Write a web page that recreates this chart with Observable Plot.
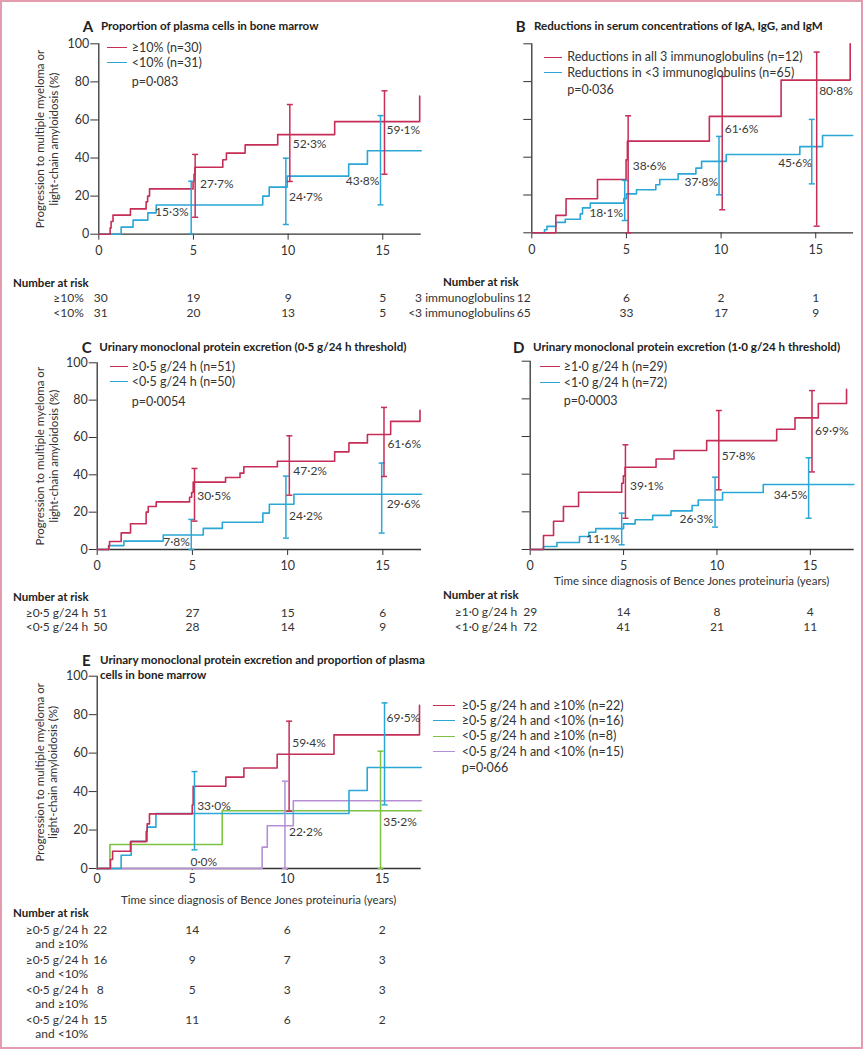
<!DOCTYPE html>
<html><head><meta charset="utf-8">
<script src="https://cdn.jsdelivr.net/npm/d3@7"></script>
<script src="https://cdn.jsdelivr.net/npm/@observablehq/plot@0.6"></script>
<style>
body{margin:0;background:#fff;font-family:Lato,sans-serif;color:#333}
#page{position:relative;width:866px;height:1050px;overflow:hidden;background:#fff}
#page svg{position:absolute;left:0;top:0;background:transparent}
.frame{position:absolute;left:0;top:0;width:863px;height:1049px;box-sizing:border-box;border:2px solid #e29cae}
.t{position:absolute;white-space:nowrap;line-height:1}
.key{position:absolute;height:0}
</style></head>
<body><div id="page"><div class="frame"></div></div>
<script>
// ---------------- DATA ----------------
const riskTimes = [0, 5, 10, 15];
const yAxisLabel = "Progression to multiple myeloma or\nlight-chain amyloidosis (%)";
const xAxisLabel = "Time since diagnosis of Bence Jones proteinuria (years)";

// Panel A
const A_title = "Proportion of plasma cells in bone marrow";
const A_legend = ["≥10% (n=30)", "<10% (n=31)"];
const A_p = "p=0·083";
const A_hi = [[0,0],[0.6,3.3],[0.65,6.7],[0.75,10],[1.67,13.3],[2.5,17],[2.58,20],[2.68,23.8],[4.98,27.7],[5.03,31.5],[5.08,35.2],[6.55,39.1],[6.74,42.6],[7.73,46.9],[9.45,52.3],[12.46,59.1],[16.95,72.5]];
const A_lo = [[0,0],[1.18,3.7],[1.81,7.4],[2.59,11.2],[3.03,15.3],[8.66,20.0],[9.0,24.7],[9.95,30.5],[13.2,36.8],[14.19,43.8],[17.03,43.8]];
const A_ciHi = [[5.09,8.9,41.9],[10.09,27.7,68.1],[15.09,31.5,75.3]];
const A_ciLo = [[4.88,0.2,27.8],[9.88,5.1,39.9],[14.88,15.4,62.3]];
const A_labels = [[5.35,26.1,"27·7%","r"],[10.25,47.1,"52·3%","r"],[15.2,54.8,"59·1%","r"],[4.75,11.4,"15·3%","l"],[10.05,19.3,"24·7%","r"],[14.82,27.7,"43·8%","l"]];
const A_riskRows = ["≥10%", "<10%"];
const A_risk = [[30,19,9,5],[31,20,13,5]];

// Panel B
const B_title = "Reductions in serum concentrations of IgA, IgG, and IgM";
const B_legend = ["Reductions in all 3 immunoglobulins (n=12)", "Reductions in <3 immunoglobulins (n=65)"];
const B_p = "p=0·036";
const B_hi = [[0,0],[1.27,9.2],[1.81,18.0],[3.47,28.2],[4.98,38.6],[5.05,48.5],[9.38,61.6],[13.17,80.8],[16.82,100]];
const B_lo = [[0,0],[0.67,1.6],[0.8,3.4],[1.27,5.5],[1.77,7.2],[2.56,10.0],[2.68,13.2],[3.09,15.7],[4.86,18.1],[5.0,20.6],[5.53,22.8],[6.55,25.4],[6.76,28.2],[7.73,31.2],[8.67,34.2],[8.97,37.8],[10.27,41.4],[14.16,45.6],[15.36,51.5],[16.95,51.5]];
const B_ciHi = [[5.09,0,61.9],[10.06,12.2,82.7],[15.05,3.5,95.6]];
const B_ciLo = [[4.91,6.5,27.7],[9.89,20.1,51.0],[14.79,25.9,60.0]];
const B_labels = [[5.33,35.3,"38·6%","r"],[10.19,54.7,"61·6%","r"],[15.18,75,"80·8%","r"],[4.82,10.6,"18·1%","l"],[9.84,26.8,"37·8%","l"],[14.79,36.9,"45·6%","l"]];
const B_riskRows = ["3 immunoglobulins", "<3 immunoglobulins"];
const B_risk = [[12,6,2,1],[65,33,17,9]];

// Panel C
const C_title = "Urinary monoclonal protein excretion (0·5 g/24 h threshold)";
const C_legend = ["≥0·5 g/24 h (n=51)", "<0·5 g/24 h (n=50)"];
const C_p = "p=0·0054";
const C_hi = [[0,0],[0.6,2.1],[0.65,4.3],[1.26,8.9],[1.75,13.8],[2.57,20],[2.68,23.0],[3.1,25.5],[4.85,28.0],[4.96,30.5],[5.04,36.1],[6.74,38.6],[7.5,40.9],[7.7,44.3],[9.46,47.3],[12.47,52.3],[13.22,57.1],[14.19,61.6],[15.41,68.6],[16.95,74.6]];
const C_lo = [[0,0],[0.63,2.1],[1.4,4.5],[3.47,7.8],[5.57,11.3],[6.57,14.6],[8.7,19.5],[9.04,24.2],[10.33,29.6],[17.03,29.6]];
const C_ciHi = [[5.11,15.2,43.4],[10.09,29.1,60.9],[15.06,39.1,76.1]];
const C_ciLo = [[4.94,0,16.1],[9.91,6.1,39.3],[14.94,8.8,46.3]];
const C_labels = [[5.25,28.6,"30·5%","r"],[10.3,42,"47·2%","r"],[15.24,56.3,"61·6%","r"],[4.87,4,"7·8%","l"],[10.07,18,"24·2%","r"],[15.2,24.1,"29·6%","r"]];
const C_riskRows = ["≥0·5 g/24 h", "<0·5 g/24 h"];
const C_risk = [[51,27,15,6],[50,28,14,9]];

// Panel D
const D_title = "Urinary monoclonal protein excretion (1·0 g/24 h threshold)";
const D_legend = ["≥1·0 g/24 h (n=29)", "<1·0 g/24 h (n=72)"];
const D_p = "p=0·0003";
const D_hi = [[0,0],[0.71,7.4],[1.25,15.0],[1.78,22.8],[2.59,30.4],[4.9,35.2],[4.99,39.1],[5.08,43.7],[6.74,48.1],[7.7,52.6],[9.45,57.8],[13.2,63.9],[14.18,69.9],[15.43,77.5],[16.94,85.1]];
const D_lo = [[0,0],[0.71,1.6],[1.43,3.7],[2.64,6.9],[3.14,9.2],[3.51,11.1],[5.0,13.6],[5.62,15.8],[6.56,18.1],[7.54,20.5],[8.67,23.4],[9.0,26.3],[10.3,30.3],[12.48,34.5],[17.33,34.5]];
const D_ciHi = [[5.1,16.6,55.6],[10.1,31.7,73.8],[15.09,41.2,84.4]];
const D_ciLo = [[4.9,2.5,19.3],[9.9,11.9,38.4],[14.91,16.6,48.7]];
const D_labels = [[5.35,33.6,"39·1%","r"],[10.26,49.4,"57·8%","r"],[15.25,62.8,"69·9%","r"],[4.8,5.7,"11·1%","l"],[9.8,16.3,"26·3%","l"],[14.84,29,"34·5%","l"]];
const D_riskRows = ["≥1·0 g/24 h", "<1·0 g/24 h"];
const D_risk = [[29,14,8,4],[72,41,21,11]];

// Panel E
const E_title = ["Urinary monoclonal protein excretion and proportion of plasma", "cells in bone marrow"];
const E_legend = ["≥0·5 g/24 h and ≥10% (n=22)", "≥0·5 g/24 h and <10% (n=16)", "<0·5 g/24 h and ≥10% (n=8)", "<0·5 g/24 h and <10% (n=15)"];
const E_p = "p=0·066";
const E_hh = [[0,0],[0.7,4.7],[0.81,9.0],[1.75,14.0],[2.58,19.2],[2.63,23.2],[2.75,28.4],[5.0,33.0],[5.05,42.8],[6.77,47.5],[7.72,52.3],[9.47,59.4],[12.46,69.5],[16.96,84.9]];
const E_hl = [[0,0],[1.26,6.9],[1.79,14.2],[2.63,21.5],[3.09,28.6],[13.25,40.6],[14.21,52.5],[17.05,52.5]];
const E_lh = [[0,0],[0.67,12.5],[6.58,30.0],[17.05,30.0]];
const E_ll = [[0,0],[8.68,11.1],[8.95,22.2],[10.32,35.2],[17.05,35.2]];
const E_ciHh = [[10.1,29.8,76.6]];
const E_ciHl = [[5.12,9.7,50.4],[15.12,33.1,86.1]];
const E_ciLh = [[14.91,0,61.0]];
const E_ciLl = [[9.88,0,45.4]];
const E_labels = [[5.26,32.4,"33·0%","r"],[4.91,3.1,"0·0%","r"],[10.26,65.2,"59·4%","r"],[10.09,18.7,"22·2%","r"],[15.23,78.3,"69·5%","r"],[15.05,24.3,"35·2%","r"]];
const E_riskRows = ["≥0·5 g/24 h", "≥0·5 g/24 h", "<0·5 g/24 h", "<0·5 g/24 h"];
const E_riskRows2 = ["and ≥10%", "and <10%", "and ≥10%", "and <10%"];
const E_risk = [[22,14,6,2],[16,9,7,3],[8,5,3,3],[15,11,6,2]];

// ---------------- STYLE ----------------
const RED = "#c62d57", BLUE = "#2aa7d6", GREEN = "#7cc243", PURPLE = "#b58fd6";
const INK = "#333";
const FONT = "Lato, sans-serif";
const page = document.getElementById("page");

function txt(s, x, y, {size = 11, weight = 400, anchor = "start", color = INK} = {}) {
  const d = document.createElement("div");
  d.className = "t";
  d.textContent = s;
  d.style.left = x + "px";
  d.style.top = y + "px";
  d.style.fontSize = size + "px";
  d.style.fontWeight = weight;
  d.style.color = color;
  const tx = anchor === "end" ? "-100%" : anchor === "middle" ? "-50%" : "0";
  d.style.transform = `translate(${tx},-50%)`;
  page.appendChild(d);
}
function key(x1, x2, y, color) {
  const d = document.createElement("div");
  d.className = "key";
  d.style.left = x1 + "px";
  d.style.top = (y - 0.75) + "px";
  d.style.width = (x2 - x1) + "px";
  d.style.borderTop = `1.5px solid ${color}`;
  page.appendChild(d);
}

const capSym = {draw(ctx, size) { const w = Math.sqrt(size / Math.PI); ctx.moveTo(-w, 0); ctx.lineTo(w, 0); }};

function panel(L, series, cis, labels, opts) {
  const marks = [
    Plot.ruleY([0], {x1: 0, x2: L.xmax, stroke: INK, strokeWidth: 1.3}),
    Plot.ruleX([0], {y1: 0, y2: 100, stroke: INK, strokeWidth: 1.3})
  ];
  for (const s of series) marks.push(Plot.line(s.data, {x: d => d[0], y: d => d[1], curve: "step-after", stroke: s.color, strokeWidth: 1.6}));
  for (const c of cis) {
    marks.push(Plot.ruleX(c.data, {x: d => d[0], y1: d => d[1], y2: d => d[2], stroke: c.color, strokeWidth: 1.5}));
    marks.push(Plot.dot(c.data, {x: d => d[0], y: d => d[1], symbol: capSym, r: 3, stroke: c.color, fill: "none", strokeWidth: 1.5}));
    marks.push(Plot.dot(c.data, {x: d => d[0], y: d => d[2], symbol: capSym, r: 3, stroke: c.color, fill: "none", strokeWidth: 1.5}));
  }
  marks.push(Plot.text(labels.filter(d => d[3] === "r"), {x: d => d[0], y: d => d[1], text: d => d[2], textAnchor: "start", fontSize: 12, fill: "#3a3a3a"}));
  marks.push(Plot.text(labels.filter(d => d[3] === "l"), {x: d => d[0], y: d => d[1], text: d => d[2], textAnchor: "end", fontSize: 12, fill: "#3a3a3a"}));
  if (opts.yLabelDx) marks.push(Plot.text([yAxisLabel], {frameAnchor: "left", textAnchor: "middle", lineAnchor: "middle", dx: opts.yLabelDx, rotate: -90, text: d => d, fontSize: 11.5, lineHeight: 1.17, fill: INK}));
  const svg = Plot.plot({
    width: 866, height: 1050,
    marginLeft: L.left, marginRight: 866 - L.right, marginTop: L.top, marginBottom: 1050 - L.bottom,
    x: {domain: [0, L.xmax], ticks: riskTimes, tickSize: opts.xTickSize, tickPadding: opts.xTickPad, tickFormat: d => String(d), label: null},
    y: {domain: [0, 100], ticks: [0, 20, 40, 60, 80, 100], tickSize: 8, tickPadding: 1.5, tickFormat: opts.yTicks ? (d => String(d)) : (() => ""), label: null},
    style: {fontFamily: FONT, fontSize: "12.5px", color: INK, background: "transparent", overflow: "visible"},
    marks
  });
  page.appendChild(svg);
}

function riskTable(L, rows, risk, rowY, labelDx, firstDx, rows2) {
  const cells = [];
  risk.forEach((r, i) => r.forEach((n, j) => cells.push({row: i, t: riskTimes[j], n})));
  const FS = 12;
  const marks = [
    Plot.text(cells.filter(d => d.t === 0), {x: "t", y: "row", text: d => String(d.n), dx: firstDx, fontSize: FS, fill: INK}),
    Plot.text(cells.filter(d => d.t !== 0), {x: "t", y: "row", text: d => String(d.n), fontSize: FS, fill: INK}),
    Plot.text(rows.map((s, i) => ({row: i, s})), {y: "row", text: "s", frameAnchor: "left", textAnchor: "end", dx: labelDx, fontSize: FS, fill: INK})
  ];
  if (rows2) marks.push(Plot.text(rows2.map((s, i) => ({row: i, s})), {y: "row", text: "s", frameAnchor: "left", textAnchor: "end", dx: labelDx, dy: 14, fontSize: FS, fill: INK}));
  const svg = Plot.plot({
    width: 866, height: 1050,
    marginLeft: L.left, marginRight: 866 - L.right, marginTop: rowY[0], marginBottom: 1050 - rowY[1],
    x: {domain: [0, L.xmax], axis: null},
    y: {type: "point", domain: d3.range(rows.length), padding: 0, axis: null},
    style: {fontFamily: FONT, fontSize: "12px", color: INK, background: "transparent", overflow: "visible"},
    marks
  });
  page.appendChild(svg);
}

// ---------------- LAYOUT ----------------
const LA = {left: 98.3, right: 420.7, top: 43.3, bottom: 233.7, xmax: 17.03};
const LB = {left: 531.3, right: 853.1, top: 43.3, bottom: 232.3, xmax: 17};
const LC = {left: 96.7, right: 421, top: 362.3, bottom: 549, xmax: 17.03};
const LD = {left: 529.7, right: 853.7, top: 360.7, bottom: 549, xmax: 17.35};
const LE = {left: 96.7, right: 420.7, top: 675.7, bottom: 868, xmax: 17.05};

panel(LA, [{data: A_lo, color: BLUE}, {data: A_hi, color: RED}], [{data: A_ciLo, color: BLUE}, {data: A_ciHi, color: RED}], A_labels, {yTicks: true, yLabelDx: -52, xTickSize: 6, xTickPad: 6});
panel(LB, [{data: B_lo, color: BLUE}, {data: B_hi, color: RED}], [{data: B_ciLo, color: BLUE}, {data: B_ciHi, color: RED}], B_labels, {yTicks: false, xTickSize: 6, xTickPad: 6});
panel(LC, [{data: C_lo, color: BLUE}, {data: C_hi, color: RED}], [{data: C_ciLo, color: BLUE}, {data: C_ciHi, color: RED}], C_labels, {yTicks: true, yLabelDx: -50.7, xTickSize: 6, xTickPad: 6});
panel(LD, [{data: D_lo, color: BLUE}, {data: D_hi, color: RED}], [{data: D_ciLo, color: BLUE}, {data: D_ciHi, color: RED}], D_labels, {yTicks: false, xTickSize: 6, xTickPad: 6});
panel(LE, [{data: E_lh, color: GREEN}, {data: E_ll, color: PURPLE}, {data: E_hl, color: BLUE}, {data: E_hh, color: RED}],
  [{data: E_ciLl, color: PURPLE}, {data: E_ciLh, color: GREEN}, {data: E_ciHh, color: RED}, {data: E_ciHl, color: BLUE}], E_labels,
  {yTicks: true, yLabelDx: -51, xTickSize: 2, xTickPad: 4});

riskTable(LA, A_riskRows, A_risk, [298, 313], -15, 2);
riskTable(LB, B_riskRows, B_risk, [298, 313], -17, -8);
riskTable(LC, C_riskRows, C_risk, [612.7, 627.3], -9, 3);
riskTable(LD, D_riskRows, D_risk, [611.7, 626.7], -13, 0);
riskTable(LE, E_riskRows, E_risk, [929.3, 1020], -9, 3, E_riskRows2);

// titles
const TS = 11.6;
txt("A", 82.7, 26, {size: 15, weight: 700, color: "#222"}); txt(A_title, 101, 26, {size: TS, weight: 700, color: "#222"});
txt("B", 515.7, 26, {size: 15, weight: 700, color: "#222"}); txt(B_title, 534, 26, {size: TS, weight: 700, color: "#222"});
txt("C", 81.7, 346.7, {size: 15, weight: 700, color: "#222"}); txt(C_title, 99.3, 346.7, {size: TS, weight: 700, color: "#222"});
txt("D", 513, 346.7, {size: 15, weight: 700, color: "#222"}); txt(D_title, 533, 346.7, {size: TS, weight: 700, color: "#222"});
txt("E", 82, 659.5, {size: 15, weight: 700, color: "#222"}); txt(E_title[0], 100, 659.5, {size: TS, weight: 700, color: "#222"});
txt(E_title[1], 100, 675, {size: TS, weight: 700, color: "#222"});

// legends
const LS = 12.5;
key(107, 127, 47.7, RED); key(107, 127, 62.7, BLUE);
txt(A_legend[0], 131.7, 47.7, {size: LS}); txt(A_legend[1], 131.7, 62.7, {size: LS}); txt(A_p, 131.7, 81.7, {size: LS});
key(544, 562, 57.3, RED); key(544, 562, 72.7, BLUE);
txt(B_legend[0], 567.3, 57.3, {size: LS}); txt(B_legend[1], 567.3, 72.7, {size: LS}); txt(B_p, 567.3, 90, {size: LS});
key(110, 128, 366.7, RED); key(110, 128, 381.7, BLUE);
txt(C_legend[0], 131.7, 366.7, {size: LS}); txt(C_legend[1], 131.7, 381.7, {size: LS}); txt(C_p, 131.7, 402.3, {size: LS});
key(540.3, 559.7, 366.7, RED); key(540.3, 559.7, 382.7, BLUE);
txt(D_legend[0], 563.7, 366.7, {size: LS}); txt(D_legend[1], 563.7, 382.7, {size: LS}); txt(D_p, 563.7, 401, {size: LS});
[RED, BLUE, GREEN, PURPLE].forEach((c, i) => { key(433, 455, 705.7 + i * 15.33, c); txt(E_legend[i], 461.7, 705.7 + i * 15.33, {size: LS}); });
txt(E_p, 461.7, 767.7, {size: LS});

// axis titles
txt(xAxisLabel, 691.7, 580.7, {size: 11.5, anchor: "middle"});
txt(xAxisLabel, 258.7, 900, {size: 11.5, anchor: "middle"});

// number at risk headings
txt("Number at risk", 13, 283, {size: 11.5, weight: 700, color: "#222"});
txt("Number at risk", 443, 282, {size: 11.5, weight: 700, color: "#222"});
txt("Number at risk", 13, 596.7, {size: 11.5, weight: 700, color: "#222"});
txt("Number at risk", 443, 595, {size: 11.5, weight: 700, color: "#222"});
txt("Number at risk", 13, 912.7, {size: 11.5, weight: 700, color: "#222"});
</script></body></html>
